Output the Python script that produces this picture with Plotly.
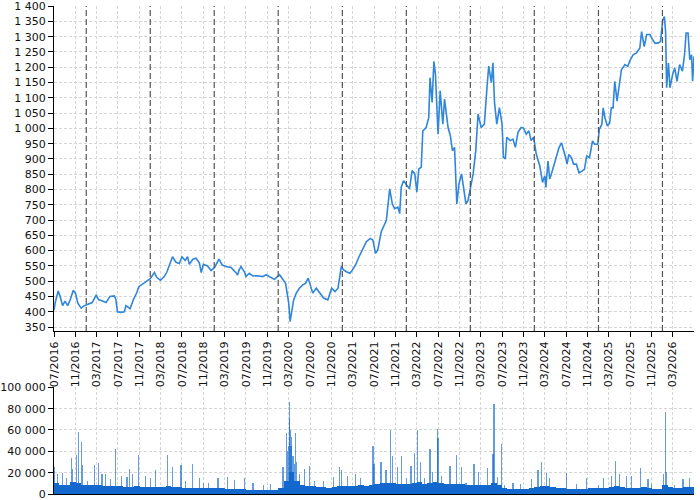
import pandas as pd
import plotly.graph_objects as go

# ---------------- price line ----------------
price_dates = [
    "2016-07-01", "2016-07-08", "2016-07-25", "2016-08-04", "2016-08-19", "2016-09-02", "2016-09-17",
    "2016-10-02", "2016-10-19", "2016-11-01", "2016-11-14", "2016-12-03", "2016-12-21", "2017-01-10",
    "2017-02-04", "2017-02-27", "2017-03-12", "2017-04-04", "2017-04-24", "2017-05-16", "2017-06-10",
    "2017-06-19", "2017-06-28", "2017-07-18", "2017-08-06", "2017-08-16", "2017-09-08", "2017-09-27",
    "2017-10-16", "2017-10-28", "2017-11-19", "2017-12-12", "2018-01-01", "2018-01-25", "2018-02-08",
    "2018-02-28", "2018-03-22", "2018-04-06", "2018-04-19", "2018-05-08", "2018-05-28", "2018-06-16",
    "2018-07-01", "2018-07-19", "2018-08-02", "2018-08-12", "2018-09-01", "2018-09-19", "2018-10-08",
    "2018-10-19", "2018-10-31", "2018-11-24", "2018-12-14", "2019-01-03", "2019-01-28", "2019-02-16",
    "2019-03-09", "2019-04-07", "2019-05-05", "2019-05-14", "2019-05-24",
    "2019-06-03", "2019-06-22", "2019-07-01", "2019-07-20", "2019-08-09", "2019-09-07", "2019-10-04",
    "2019-10-24", "2019-11-22", "2019-12-10", "2020-01-09", "2020-01-28", "2020-02-12", "2020-02-21",
    "2020-03-01", "2020-03-09", "2020-03-20", "2020-03-29", "2020-04-13", "2020-05-01", "2020-05-20",
    "2020-06-05", "2020-06-20", "2020-07-02", "2020-07-16", "2020-08-05", "2020-08-24", "2020-09-16",
    "2020-10-10", "2020-11-01", "2020-11-20", "2020-12-07", "2020-12-26", "2021-01-08", "2021-01-24",
    "2021-02-13", "2021-02-28", "2021-03-17", "2021-04-06", "2021-04-28", "2021-05-18", "2021-06-09",
    "2021-06-24", "2021-07-09", "2021-07-22", "2021-08-11", "2021-08-30", "2021-09-09",
    "2021-09-28", "2021-10-13", "2021-10-26", "2021-11-14", "2021-11-24", "2021-12-03", "2021-12-16",
    "2022-01-01", "2022-01-19", "2022-02-03", "2022-02-18", "2022-03-02", "2022-03-13", "2022-03-27",
    "2022-04-05", "2022-04-24", "2022-05-09", "2022-05-16", "2022-05-28", "2022-06-07", "2022-06-16",
    "2022-07-01", "2022-07-13", "2022-07-28", "2022-08-07", "2022-08-27", "2022-09-09", "2022-09-21",
    "2022-10-03", "2022-10-16", "2022-10-28", "2022-11-12", "2022-11-24", "2022-12-07", "2022-12-19",
    "2023-01-02", "2023-01-17", "2023-02-01", "2023-02-14", "2023-03-04", "2023-03-22", "2023-04-06",
    "2023-04-16", "2023-05-01", "2023-05-10", "2023-05-19", "2023-06-01", "2023-06-16", "2023-07-01",
    "2023-07-09", "2023-07-20", "2023-07-28", "2023-08-16", "2023-09-01", "2023-09-15", "2023-09-30",
    "2023-10-18", "2023-11-01", "2023-11-16", "2023-12-01", "2023-12-14", "2023-12-28", "2024-01-12",
    "2024-02-01", "2024-02-17", "2024-03-01", "2024-03-07", "2024-03-19", "2024-03-29", "2024-04-07",
    "2024-04-21", "2024-05-06", "2024-05-21", "2024-06-04", "2024-06-13", "2024-06-28", "2024-07-06",
    "2024-07-16", "2024-07-31", "2024-08-12", "2024-08-28", "2024-09-12", "2024-10-01", "2024-10-13",
    "2024-10-26", "2024-11-11", "2024-11-28", "2024-12-10", "2024-12-28", "2025-01-06", "2025-01-20",
    "2025-01-28", "2025-02-07", "2025-02-21", "2025-03-06", "2025-03-15", "2025-03-25", "2025-04-04",
    "2025-04-17", "2025-04-28", "2025-05-12", "2025-06-01", "2025-06-18", "2025-06-28", "2025-07-18",
    "2025-08-06", "2025-08-25", "2025-09-04", "2025-09-19", "2025-10-03", "2025-10-22", "2025-11-06",
    "2025-11-19", "2025-12-07", "2025-12-21", "2026-01-03", "2026-01-12", "2026-01-19", "2026-01-25",
    "2026-02-04", "2026-02-13", "2026-02-28", "2026-03-12", "2026-03-25", "2026-04-09", "2026-04-25",
    "2026-05-07", "2026-05-16", "2026-05-27", "2026-06-06", "2026-06-16", "2026-06-22", "2026-06-30",
]
price_values = [
    405, 430, 468, 452, 420, 435, 420,
    440, 470, 460, 428, 412, 420, 425,
    430, 455, 440, 435, 430, 450, 452,
    440, 400, 398, 400, 420, 410, 440,
    462, 482, 490, 500, 508, 528, 512,
    503, 515, 530, 550, 580, 562, 558,
    580, 568, 580, 555, 572, 575, 560,
    528, 555, 550, 535, 545, 572, 553,
    548, 545, 528, 520, 538,
    548, 531, 515, 526, 517, 518, 515,
    521, 510, 506, 521, 504, 493, 461,
    428, 368, 407, 439, 461, 477, 488,
    493, 510, 488, 461, 477, 461, 445,
    439, 477, 466, 477, 548, 537, 531,
    526, 537, 553, 580, 608, 629, 640,
    635, 591, 602, 662, 689, 699,
    802, 753, 737, 742, 721, 808, 829,
    818, 802, 862, 851, 791, 867, 873,
    992, 1003, 1036, 1166, 1085, 1219, 1177,
    981, 1123, 1014, 1096, 1003, 976, 927,
    938, 753, 818, 851, 797, 753, 764,
    808, 851, 927, 1047, 1003, 1014, 1134,
    1204, 1150, 1215, 1085, 1014, 1068, 1014,
    905, 900, 971, 960, 965, 938, 987,
    1003, 1001, 981, 992, 960, 971, 916,
    878, 823, 845, 807, 893, 834, 850,
    877, 904, 937, 953, 937, 904, 883,
    915, 904, 883, 883, 855, 861, 866,
    910, 904, 959, 948, 948, 997, 1013,
    1067, 1035, 1008, 1018, 1067, 1067, 1154,
    1089, 1143, 1192, 1209, 1203, 1220, 1241,
    1247, 1263, 1317, 1268, 1307, 1307, 1290,
    1279, 1279, 1285, 1355, 1366, 1317, 1133,
    1214, 1133, 1176, 1198, 1154, 1209, 1187,
    1241, 1312, 1312, 1225, 1241, 1154, 1236,
]

# ---------------- volume: typical monthly level (read) ----------------
base_months = [d.strftime("%Y-%m-%d") for d in pd.date_range("2016-07-01", "2026-06-01", freq="MS")]
base_volume = [
    10000, 8000, 8000, 11000, 10000, 8000,
    8000, 8000, 8000, 7000, 7000, 7000, 7000, 6500, 6500, 7000, 6500, 6500,
    6500, 6500, 6000, 7000, 6500, 6000, 5000, 5000, 5000, 5000, 5000, 5000,
    5000, 5000, 4500, 4500, 4500, 4500, 3500, 3500, 3500, 3500, 3500, 3500,
    5000, 12000, 20000, 12000, 8000, 7000, 7000, 6000, 6000, 5500, 6000, 7000,
    7000, 7000, 7000, 8000, 7000, 8000, 9000, 10000, 10000, 10000, 9500, 9500,
    9500, 10000, 11000, 9500, 10000, 11000, 10000, 9000, 9000, 9500, 9000, 8000,
    8000, 8500, 8000, 8500, 10000, 8000, 5500, 4500, 4500, 4500, 4500, 5000,
    6000, 7000, 7000, 6000, 5000, 5000, 4500, 4500, 4500, 4500, 5000, 5000,
    5000, 5000, 6000, 7000, 6000, 5000, 5000, 5000, 6000, 5000, 4500, 4500,
    8000, 6000, 5000, 5000, 6000, 6000,
]

# ---------------- volume: individual spikes (read) ----------------
spike_dates = [
    "2016-07-03", "2016-07-22", "2016-08-19", "2016-09-12", "2016-10-07", "2016-10-16", "2016-11-07",
    "2016-11-17", "2016-12-04", "2016-12-10", "2017-01-10", "2017-02-17", "2017-03-13", "2017-04-01",
    "2017-04-22", "2017-05-19", "2017-06-19", "2017-07-19", "2017-08-22", "2017-09-04", "2017-09-22",
    "2017-10-28", "2017-12-07", "2018-01-04", "2018-02-01", "2018-04-10", "2018-05-08", "2018-06-25",
    "2018-07-19", "2018-09-01", "2018-10-07", "2018-11-01", "2018-12-01", "2019-01-22", "2019-03-19",
    "2019-04-25", "2019-06-22", "2019-08-10", "2019-10-07", "2019-11-16", "2020-01-28", "2020-02-19",
    "2020-02-25", "2020-03-01", "2020-03-04", "2020-03-07", "2020-03-10", "2020-03-14", "2020-03-19",
    "2020-03-25", "2020-04-01", "2020-04-07", "2020-04-16", "2020-05-01",
    "2020-06-01", "2020-06-28", "2020-07-25", "2020-09-16", "2020-11-10", "2020-12-16", "2020-12-28",
    "2021-02-01", "2021-03-17", "2021-04-16", "2021-06-25", "2021-07-01", "2021-08-10", "2021-09-07",
    "2021-10-01", "2021-10-16", "2021-11-13", "2021-12-04", "2022-01-01", "2022-01-28", "2022-02-18",
    "2022-03-04", "2022-03-22", "2022-04-13", "2022-05-16", "2022-06-01", "2022-06-28", "2022-07-01",
    "2022-07-22", "2022-09-07", "2022-10-13", "2022-11-10", "2022-12-07", "2023-01-22", "2023-02-15",
    "2023-04-07", "2023-05-10", "2023-05-16", "2023-06-07", "2023-06-28", "2023-07-16", "2023-09-01",
    "2023-10-16", "2023-12-16", "2024-01-22", "2024-02-12", "2024-03-10", "2024-03-28", "2024-07-02",
    "2024-08-28", "2024-10-25", "2025-01-01", "2025-01-28", "2025-03-15", "2025-04-08", "2025-05-03",
    "2025-06-10", "2025-07-08", "2025-08-28", "2025-10-10", "2025-11-01", "2026-01-07", "2026-01-19",
    "2026-01-25", "2026-03-12", "2026-04-28", "2026-06-06",
]
spike_values = [
    25000, 18000, 19000, 15000, 33000, 23000, 36000,
    58000, 48000, 27000, 12000, 27000, 29000, 18000,
    18000, 14000, 42000, 17000, 16000, 23000, 18000,
    36000, 17000, 15000, 22000, 36000, 25000, 27000,
    12000, 28000, 15000, 10000, 10000, 15000, 16000,
    13000, 15000, 10000, 8000, 9000, 25000, 57000,
    40000, 45000, 86000, 70000, 60000, 45000, 53000,
    35000, 28000, 57000, 30000, 18000,
    23000, 26000, 12000, 12000, 16000, 25000, 22000,
    17000, 18000, 15000, 45000, 28000, 30000, 22000,
    60000, 35000, 25000, 35000, 15000, 26000, 38000,
    60000, 30000, 15000, 42000, 20000, 61000, 52000,
    17000, 26000, 36000, 25000, 10000, 28000, 20000,
    24000, 37000, 84000, 16000, 47000, 8000, 10000,
    9000, 14000, 22000, 30000, 19000, 15000, 19000,
    9000, 15000, 8000, 15000, 17000, 31000, 18000,
    17000, 17000, 24000, 14000, 9000, 18000, 77000,
    20000, 8000, 14000, 15000,
]

# ---------------- axis ticks ----------------
x_tick_dates = [d.strftime("%Y-%m-%d") for d in pd.date_range("2016-07-01", "2026-03-01", freq="4MS")]
year_marks = ["2017-01-01", "2018-01-01", "2019-01-01", "2020-01-01", "2021-01-01",
              "2022-01-01", "2023-01-01", "2024-01-01", "2025-01-01", "2026-01-01"]
price_ticks = list(range(350, 1401, 50))
volume_ticks = [0, 20000, 40000, 60000, 80000, 100000]

DAY_MS = 86400000
FONT = "DejaVu Sans"
GRID = "#d6d6d6"
TICKFONT = dict(family=FONT, size=11, color="#111")

fig = go.Figure()

fig.add_trace(go.Scatter(
    x=price_dates, y=price_values, mode="lines",
    line=dict(color="#2f86dc", width=1.6),
    xaxis="x", yaxis="y", showlegend=False, hoverinfo="skip",
))

fig.add_trace(go.Bar(
    x=base_months, y=base_volume, width=31 * DAY_MS, offset=0,
    marker=dict(color="#1268cc", line=dict(width=0)),
    xaxis="x2", yaxis="y2", showlegend=False, hoverinfo="skip",
))
fig.add_trace(go.Bar(
    x=spike_dates, y=spike_values, width=7 * DAY_MS,
    marker=dict(color="rgba(18,104,204,0.65)", line=dict(width=0)),
    xaxis="x2", yaxis="y2", showlegend=False, hoverinfo="skip",
))

xrange = ["2016-07-01", "2026-06-30"]
common_x = dict(
    type="date", range=xrange, tickmode="array", tickvals=x_tick_dates,
    showgrid=True, gridcolor=GRID, griddash="3px,2px", gridwidth=1,
    showline=True, linecolor="black", linewidth=1.2, zeroline=False, automargin=False,
)
common_y = dict(
    tickmode="array", tickformat=",d", showgrid=True, gridcolor=GRID, griddash="3px,2px",
    showline=True, linecolor="black", linewidth=1.2, ticks="outside", ticklen=5,
    tickcolor="black", zeroline=False, tickfont=TICKFONT, automargin=False,
    ticklabeloverflow="allow",
)

fig.update_layout(
    width=700, height=500,
    margin=dict(l=54, r=6, t=6, b=6, autoexpand=False),
    paper_bgcolor="white", plot_bgcolor="white",
    barmode="overlay", bargap=0,
    separators=", ",
    font=dict(family=FONT, size=11, color="#111"),
    xaxis=dict(**common_x, anchor="y", tickformat="%m/%Y", tickangle=-90,
               ticks="outside", ticklen=5, tickcolor="black", tickfont=TICKFONT),
    yaxis=dict(**common_y, domain=[0.3340, 1.0], range=[337, 1400.5], tickvals=price_ticks),
    xaxis2=dict(**common_x, anchor="y2", showticklabels=False, ticks=""),
    yaxis2=dict(**common_y, domain=[0.0, 0.2186], range=[0, 100000], tickvals=volume_ticks),
)

for d in year_marks:
    fig.add_shape(type="line", xref="x", yref="y domain", x0=d, x1=d, y0=0, y1=1,
                  line=dict(color="#555555", width=1.2, dash="6px,3px"), layer="above")

fig.write_html(
    "out.html",
    config={"displayModeBar": False},
    post_script="document.body.style.margin='0';document.body.style.overflow='hidden';",
)
